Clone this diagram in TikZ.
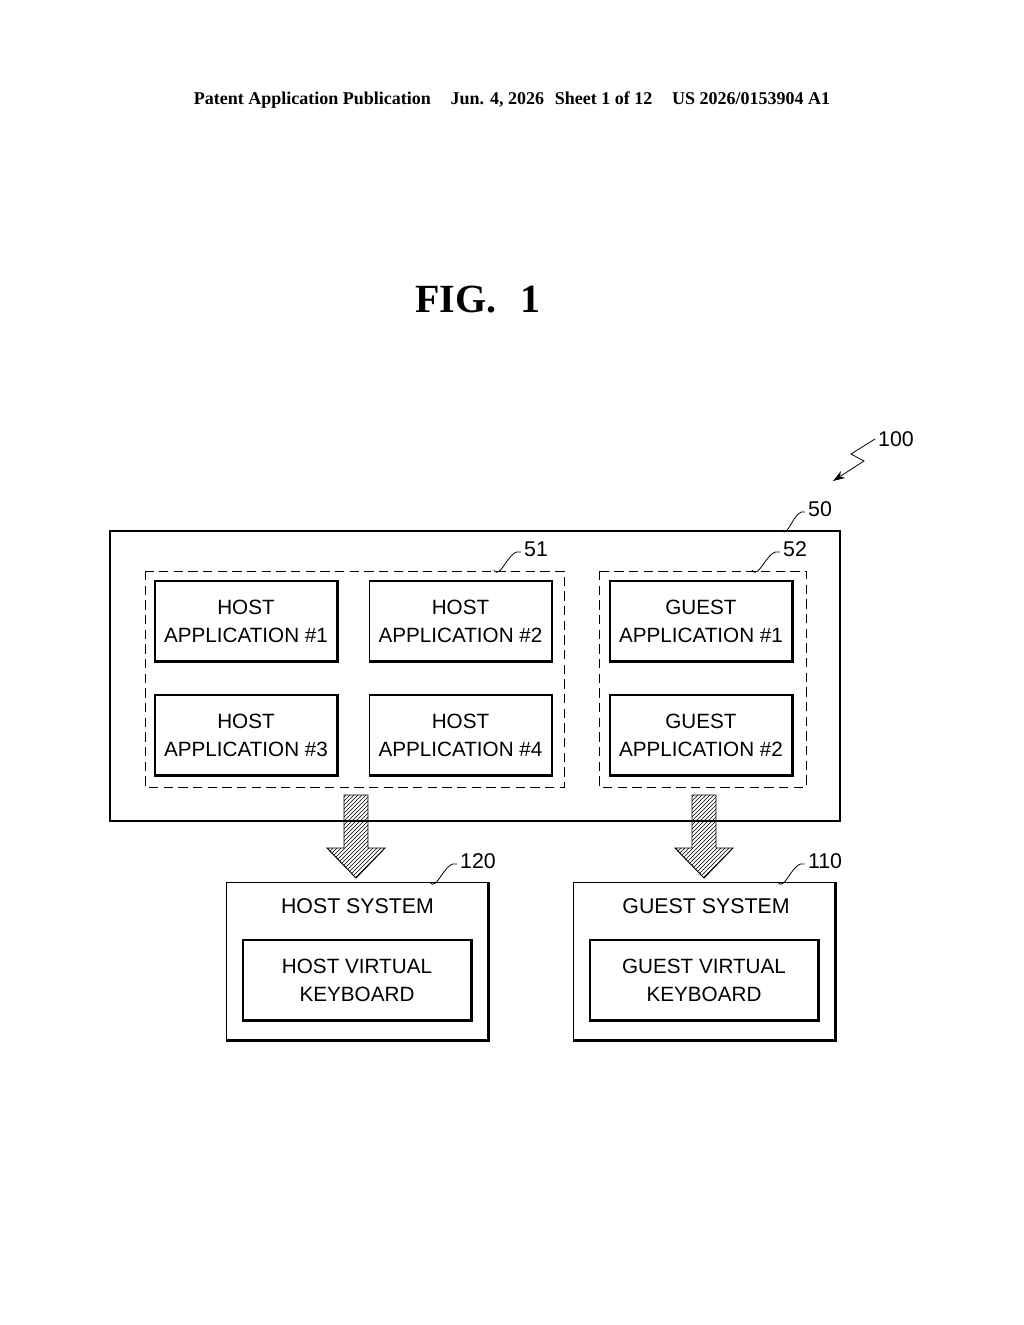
\documentclass[tikz,border=0pt]{standalone}
\usepackage{fontspec}
\setmainfont{Liberation Serif}
\setsansfont{Liberation Sans}
\usetikzlibrary{patterns,arrows.meta}

\tikzset{
  lbl/.style={font=\sffamily\fontsize{16}{18}\selectfont, inner sep=0pt},
  app/.style={draw, line width=0.8pt, minimum width=136.5pt, minimum height=60pt, align=center,
    font=\sffamily\fontsize{15.5}{21}\selectfont},
  sys/.style={draw, line width=0.8pt, minimum width=196pt, minimum height=118pt},
  kbd/.style={draw, line width=0.8pt, minimum width=171pt, minimum height=60pt, align=center,
    font=\sffamily\fontsize{15.5}{21}\selectfont},
  grp/.style={draw, dash pattern=on 7pt off 4pt, line width=0.6pt},
  leader/.style={line width=0.6pt},
  bigarrow/.style={draw, line width=0.7pt, pattern=north east lines}
}

\begin{document}
\begin{tikzpicture}[x=0.75pt,y=0.75pt,yscale=-1,xscale=1]
\useasboundingbox (0,0) rectangle (1024,1325);

% header
\node[font=\bfseries\fontsize{13.5}{15}\selectfont] (hdr) at (512,100)
  {Patent Application Publication\hspace{1.1em}Jun. 4, 2026\hspace{0.6em}Sheet 1 of 12\hspace{1.1em}US 2026/0153904 A1};
\node[font=\bfseries\fontsize{30}{32}\selectfont] (fig) at (478,300) {FIG.\hspace{0.6em}1};

% outer box and groups
\draw[line width=0.8pt] (110,531) rectangle (840,821);
\draw[grp] (145,571) rectangle (564,787);
\draw[grp] (599,571) rectangle (806,787);

% applications
\node[app] (h1) at (246,621) {HOST\\APPLICATION \#1};
\node[app] (h2) at (460.5,621) {HOST\\APPLICATION \#2};
\node[app] (h3) at (246,735) {HOST\\APPLICATION \#3};
\node[app] (h4) at (460.5,735) {HOST\\APPLICATION \#4};
\node[app] (g1) at (701,621) {GUEST\\APPLICATION \#1};
\node[app] (g2) at (701,735) {GUEST\\APPLICATION \#2};

% systems
\node[sys] (hs) at (357.5,961.5) {};
\node[sys] (gs) at (704.5,961.5) {};
\node[lbl] (hst) at (357.5,906) {HOST SYSTEM};
\node[lbl] (gst) at (706,906) {GUEST SYSTEM};
\node[kbd] (hk) at (357,980) {HOST VIRTUAL\\KEYBOARD};
\node[kbd] (gk) at (704,980) {GUEST VIRTUAL\\KEYBOARD};

% shadow edges
\foreach \n in {h1,h2,h3,h4,g1,g2,hs,gs,hk,gk}
  \draw[line width=2pt] (\n.north east) -- (\n.south east) -- (\n.south west);

% hatched arrows
\foreach \cx in {356,704}
  \draw[bigarrow] (\cx-12,795) -- (\cx+12,795) -- (\cx+12,848) -- (\cx+29,848)
    -- (\cx,878) -- (\cx-29,848) -- (\cx-12,848) -- cycle;
\draw[line width=0.8pt] (340,821) -- (372,821) (688,821) -- (720,821);

% reference numerals
\node[lbl] (n100) at (896,439) {100};
\node[lbl] (n50) at (820,509) {50};
\node[lbl] (n51) at (536,549) {51};
\node[lbl] (n52) at (795,549) {52};
\node[lbl] (n120) at (478,861) {120};
\node[lbl] (n110) at (825,861) {110};

\draw[leader] (n50.west) ++(-3,3) to[out=200,in=60] (782,530);
\draw[leader] (n51.west) ++(-3,3) to[out=200,in=60] (494,570);
\draw[leader] (n52.west) ++(-3,3) to[out=200,in=60] (752,570);
\draw[leader] (n120.west) ++(-3,3) to[out=200,in=60] (430,882);
\draw[leader] (n110.west) ++(-3,3) to[out=200,in=60] (778,882);
\draw[leader, -{Stealth[length=9pt,width=6pt]}] (n100.west) ++(-3,0) -- (851,454) -- (864,461) -- (833,481);

\end{tikzpicture}
\end{document}
